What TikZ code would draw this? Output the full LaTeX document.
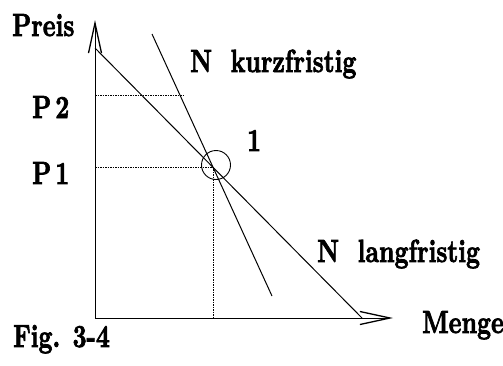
\documentclass[tikz,border=0pt]{standalone}
\usepackage{fontspec}
\newfontfamily\figfont{lmroman10-bold.otf}[FakeBold=2.5]
\usepackage{tikz}
\usetikzlibrary{arrows.meta}

\tikzset{
  lbl/.style={font=\figfont\fontsize{32}{34}\selectfont, inner sep=0pt,
              anchor=base west, xscale=0.76, transform shape},
  axis/.style={line width=1pt,
               -{Straight Barb[length=30pt, width=13pt, line width=1.3pt]}},
  curve/.style={line width=1pt},
  guide/.style={line width=0.9pt, dash pattern=on 1.5pt off 1pt},
}

\begin{document}
\begin{tikzpicture}[x=1pt, y=-1pt]
  \useasboundingbox (0,0) rectangle (503,365);

  %% ── Axes ───────────────────────────────────────────────────
  \coordinate (origin) at (95,318);
  \coordinate (ytip)   at (95,20);
  \coordinate (xtip)   at (393,318);
  \draw[axis] (origin) -- (ytip);
  \draw[axis] (origin) -- (xtip);

  %% ── Demand lines ───────────────────────────────────────────
  \coordinate (lang0) at (95,48);    % long run
  \coordinate (lang1) at (362,318);
  \coordinate (kurz0) at (152,34);   % short run
  \coordinate (kurz1) at (272,296);
  \draw[curve] (lang0) -- (lang1);
  \draw[curve] (kurz0) -- (kurz1);
  \coordinate (eq) at (intersection of lang0--lang1 and kurz0--kurz1);

  %% ── Price levels ───────────────────────────────────────────
  \coordinate (ptwoend) at (183,95);
  \draw[guide] (origin |- ptwoend) -- (ptwoend);
  \draw[guide] (origin |- eq) -- (eq) -- (eq |- origin);

  % marked point 1
  \node[draw, circle, line width=0.9pt, inner sep=0pt, minimum size=29pt]
    (ring) at (216,165) {};

  %% ── Labels ─────────────────────────────────────────────────
  \node[lbl] (preis) at (12,36)   {Preis};
  \node[lbl] (ptwo)  at (32,118)  {P\,2};
  \node[lbl] (pone)  at (32,184)  {P\,1};
  \node[lbl] (kurz)  at (190,72)  {N~~kurzfristig};
  \node[lbl] (one)   at (247,151) {1};
  \node[lbl] (lang)  at (317,262) {N~~langfristig};
  \node[lbl] (menge) at (422,333) {Menge};
  \node[lbl] (fig)   at (13,347)  {Fig. 3-4};

\end{tikzpicture}
\end{document}
